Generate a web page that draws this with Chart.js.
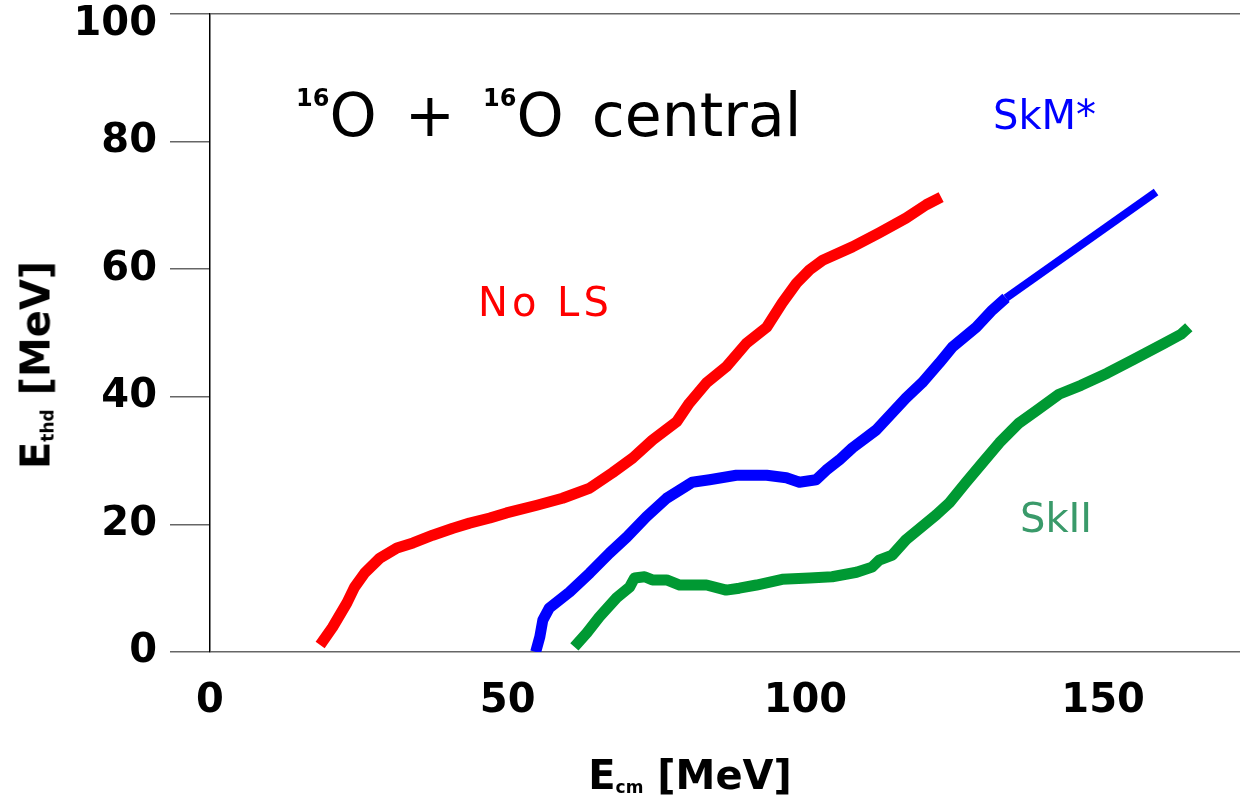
<!DOCTYPE html>
<html lang='en'>
<head>
    <meta charset='UTF-8'>
    <title>16O + 16O central</title>
    <style>
        body {
            margin: 0;
            background: #fff;
            font-family: 'DejaVu Sans', sans-serif;
        }
        #wrap {
            position: relative;
            width: 1240px;
            height: 797px;
        }
        .note {
            position: absolute;
            line-height: 1;
            white-space: nowrap;
        }
        #title { left: 296px; top: 85px; font-size: 60px; color: #000; word-spacing: 9px; }
        #title .iso { font-size: 24px; font-weight: bold; vertical-align: 30px; }
        #skm { left: 993px; top: 95px; font-size: 40px; color: #0000ff; }
        #nols { left: 478px; top: 282px; font-size: 40px; color: #ff0000; letter-spacing: 4px; }
        #sk2 { left: 1020px; top: 498px; font-size: 40px; color: #3a9a6a; }
        .axis-title {
            position: absolute;
            line-height: 1;
            white-space: nowrap;
            font-weight: bold;
            font-size: 40px;
            color: #000;
        }
        .axis-title sub { font-size: 17px; vertical-align: -4px; }
        #xtitle { left: 690px; top: 775px; transform: translate(-50%, -50%); }
        #ytitle { left: 36px; top: 365px; transform: translate(-50%, -50%) rotate(-90deg); }
    </style>
</head>
<body>
    <div id='wrap'>
        <canvas id='chart' width='1240' height='797'></canvas>
        <div class='note' id='title'><span class='iso'>16</span>O + <span class='iso'>16</span>O central</div>
        <div class='note' id='skm'>SkM*</div>
        <div class='note' id='nols'>No LS</div>
        <div class='note' id='sk2'>SkII</div>
        <div class='axis-title' id='xtitle'>E<sub>cm</sub> [MeV]</div>
        <div class='axis-title' id='ytitle'>E<sub>thd</sub> [MeV]</div>
    </div>

    <script src='https://cdn.jsdelivr.net/npm/chart.js'></script>
    <script>
        // values: E_cm (MeV) and E_thd (MeV)
        const noLsEcm = [18.5, 20.6, 23.0, 24.3, 26.0, 28.5, 31.4, 34.1, 37.4, 40.8, 43.6, 47.0, 49.8, 54.9, 59.2, 63.8, 67.6, 71.0, 74.3, 78.4, 80.5, 83.4, 86.7, 90.1, 93.5, 96.1, 98.5, 100.7, 102.9, 107.9, 112.4, 116.9, 120.3, 122.8];
        const noLsThd = [1.1, 3.9, 7.7, 10.2, 12.4, 14.7, 16.3, 17.1, 18.3, 19.4, 20.2, 21.0, 21.8, 23.0, 24.1, 25.7, 28.1, 30.4, 33.2, 36.1, 39.0, 42.2, 44.7, 48.4, 50.9, 54.7, 57.8, 59.9, 61.4, 63.5, 65.7, 68.0, 70.1, 71.3];

        const skmEcm = [54.7, 55.4, 55.9, 57.0, 60.4, 63.8, 67.1, 70.0, 73.3, 76.7, 81.0, 83.9, 88.4, 93.5, 96.8, 99.0, 101.8, 103.5, 105.7, 107.9, 111.9, 116.9, 119.6, 122.5, 124.7, 128.7, 131.4, 133.7, 158.9];
        const skmThd = [0, 2.4, 5.0, 6.9, 9.4, 12.4, 15.5, 18.0, 21.2, 24.1, 26.6, 27.0, 27.7, 27.7, 27.3, 26.6, 27.0, 28.5, 30.1, 32.0, 34.8, 39.8, 42.2, 45.3, 47.8, 50.9, 53.6, 55.5, 72.1];

        const sk2Ecm = [61.2, 63.3, 65.4, 68.3, 70.5, 71.3, 73.0, 74.3, 76.7, 78.9, 83.4, 86.7, 88.9, 91.8, 96.1, 100.7, 104.5, 108.6, 111.2, 112.4, 114.6, 116.9, 122.0, 124.2, 127.0, 129.7, 132.6, 135.9, 138.9, 142.6, 146.3, 150.7, 155.0, 160.1, 163.1, 164.4];
        const sk2Thd = [0.8, 3.0, 5.5, 8.5, 10.2, 11.6, 11.8, 11.3, 11.3, 10.5, 10.5, 9.7, 10.0, 10.5, 11.4, 11.6, 11.8, 12.5, 13.3, 14.4, 15.2, 17.6, 21.5, 23.4, 26.6, 29.6, 32.8, 35.9, 37.9, 40.4, 41.8, 43.7, 45.8, 48.3, 49.8, 50.9];

        const xTicks = [0, 50, 100, 150];
        const yTicks = [0, 20, 40, 60, 80, 100];

        function pairs(xs, ys) {
            return xs.map((x, i) => ({ x: x, y: ys[i] }));
        }

        function curve(label, xs, ys, color) {
            return {
                label: label,
                data: pairs(xs, ys),
                borderColor: color,
                backgroundColor: color,
                borderWidth: 11,
                pointRadius: 0,
                tension: 0,
                borderCapStyle: 'butt',
                borderJoinStyle: 'round',
                fill: false
            };
        }

        const tickFont = { family: 'DejaVu Sans', weight: 'bold', size: 40 };
        const yMax = yTicks[yTicks.length - 1];

        const skm = curve('SkM*', skmEcm, skmThd, '#0000ff');
        // the last straight piece of SkM* is drawn thinner in the original
        skm.segment = { borderWidth: c => c.p1DataIndex === skmEcm.length - 1 ? 8 : 11 };

        new Chart(document.getElementById('chart').getContext('2d'), {
            type: 'line',
            data: {
                datasets: [
                    curve('No LS', noLsEcm, noLsThd, '#ff0000'),
                    skm,
                    curve('SkII', sk2Ecm, sk2Thd, '#009933')
                ]
            },
            options: {
                responsive: false,
                animation: false,
                devicePixelRatio: 1,
                layout: { padding: { top: 14, right: 0, bottom: 0, left: 0 } },
                plugins: { legend: { display: false }, tooltip: { enabled: false } },
                scales: {
                    x: {
                        type: 'linear',
                        min: 0,
                        max: 173,
                        afterBuildTicks: s => { s.ticks = xTicks.map(v => ({ value: v })); },
                        ticks: { color: '#000', font: tickFont, padding: 26, maxRotation: 0 },
                        grid: { drawOnChartArea: false, drawTicks: false },
                        border: { display: false },
                        afterFit: s => { s.height = 145; s.paddingLeft = 0; s.paddingRight = 0; }
                    },
                    y: {
                        min: 0,
                        max: yMax,
                        afterBuildTicks: s => { s.ticks = yTicks.map(v => ({ value: v })); },
                        ticks: {
                            color: '#000',
                            padding: 13,
                            // top label sits a little below its tick, as in the original
                            font: c => (c.tick && c.tick.value === yMax) ? Object.assign({}, tickFont, { lineHeight: 0.55 }) : tickFont,
                            callback: v => v === yMax ? ['', String(v)] : String(v)
                        },
                        grid: {
                            color: c => (c.tick && (c.tick.value === 0 || c.tick.value === yMax)) ? '#666' : 'rgba(0,0,0,0)',
                            tickColor: '#666',
                            tickLength: 40,
                            lineWidth: 1.5
                        },
                        border: { display: true, color: '#000', width: 1.5 },
                        afterFit: s => { s.width = 210; s.paddingTop = 0; s.paddingBottom = 0; }
                    }
                }
            }
        });
    </script>
</body>
</html>
